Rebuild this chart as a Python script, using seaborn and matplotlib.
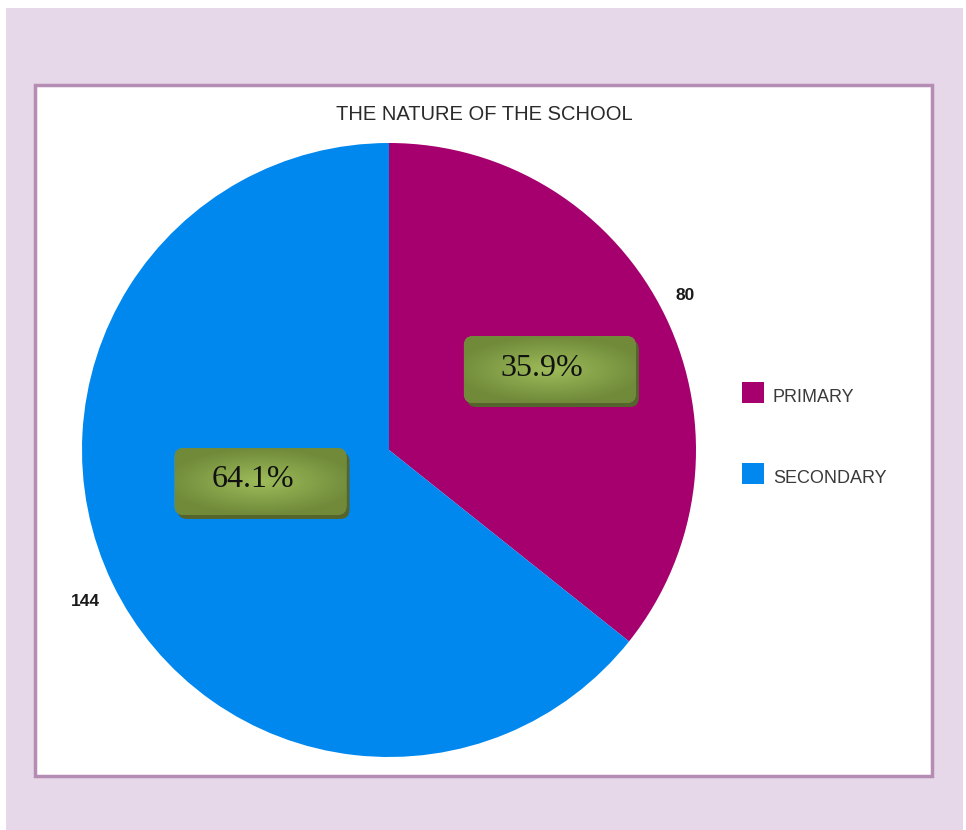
import numpy as np
import matplotlib
matplotlib.use('Agg')
import matplotlib.pyplot as plt
import seaborn as sns
from matplotlib.patches import Rectangle, FancyBboxPatch

# ---- data ----
categories = ['PRIMARY', 'SECONDARY']
counts = [80, 144]
percent_labels = ['35.9%', '64.1%']
colors = ['#a6006f', '#0088ee']
title = 'THE NATURE OF THE SCHOOL'

sns.set_theme(style='white')
plt.rcParams['font.family'] = ['Liberation Sans', 'DejaVu Sans']

W, H = 966, 830
fig = plt.figure(figsize=(W / 100, H / 100), dpi=100)
fig.patch.set_facecolor('white')


def fx(x):
    return x / W


def fy(y):
    return 1 - y / H


# outer lilac frame
fig.patches.append(Rectangle((fx(6), fy(830)), (963 - 6) / W, (830 - 8) / H,
                             transform=fig.transFigure, fc='#e6d8e8', ec='none', zorder=0))
# inner white panel
fig.patches.append(Rectangle((fx(34.5), fy(775.5)), (931.5 - 34.5) / W, (775.5 - 85.5) / H,
                             transform=fig.transFigure, fc='white', ec='#b48cb4', lw=2.5, zorder=1))

# pie axes: center (389,450) px, radius 307 px
R = 307
ax = fig.add_axes([fx(389 - R), fy(450 + R), 2 * R / W, 2 * R / H])
ax.set_zorder(2)
ax.patch.set_alpha(0)
wedges, texts = ax.pie(counts, colors=colors, startangle=90, counterclock=False,
                       radius=1, labels=[str(c) for c in counts], labeldistance=1.09,
                       wedgeprops=dict(linewidth=0),
                       textprops=dict(fontsize=12.5, fontweight='bold', color='#1a1a1a'))
label_pos = [(0.964, 0.502), (-0.990, -0.492)]
for t, p in zip(texts, label_pos):
    t.set_position(p)
    t.set_ha('center')
    t.set_va('center')

# percentage boxes
box_centers = [(0.524, 0.262), (-0.4186, -0.1026)]
bw, bh = 0.560, 0.218
sx, sy = 0.010, -0.013
yy, xx = np.mgrid[-1:1:60j, -1:1:120j]
d = np.clip(np.sqrt(xx ** 2 * 0.8 + yy ** 2 * 1.0), 0, 1)
c_in = np.array([158, 188, 90]) / 255
c_out = np.array([112, 138, 58]) / 255
grad = c_in[None, None, :] * (1 - d[..., None]) + c_out[None, None, :] * d[..., None]

for (cx, cy), lab in zip(box_centers, percent_labels):
    x0, y0 = cx - bw / 2, cy - bh / 2
    shadow = FancyBboxPatch((x0 + sx, y0 + sy), bw, bh,
                            boxstyle='round,pad=0,rounding_size=0.03',
                            fc='#55642c', ec='none', zorder=3)
    ax.add_patch(shadow)
    box = FancyBboxPatch((x0, y0), bw, bh,
                         boxstyle='round,pad=0,rounding_size=0.03',
                         fc='#7f9a45', ec='none', zorder=4)
    ax.add_patch(box)
    im = ax.imshow(grad, extent=[x0, x0 + bw, y0, y0 + bh], aspect='auto',
                   zorder=5, interpolation='bilinear')
    im.set_clip_path(box)
    ax.text(cx - 0.025, cy + 0.005, lab, ha='center', va='center', fontsize=23,
            family=['Liberation Serif', 'DejaVu Serif'], color='#111111', zorder=6)

ax.set_xlim(-1, 1)
ax.set_ylim(-1, 1)
ax.set_aspect('equal')
ax.axis('off')

# title
fig.text(fx(484), fy(115), title, ha='center', va='center', fontsize=14.5,
         color='#2a2a2a', zorder=3)

# legend
leg_y = [392.5, 473.5]
for cat, col, y in zip(categories, colors, leg_y):
    fig.patches.append(Rectangle((fx(742), fy(y + 10.5)), 22 / W, 21 / H,
                                 transform=fig.transFigure, fc=col, ec='none', zorder=3))
    fig.text(fx(773), fy(y + 4.5), cat, ha='left', va='center', fontsize=13,
             color='#3a3a3a', zorder=3)

fig.savefig('out.png', dpi=100)
